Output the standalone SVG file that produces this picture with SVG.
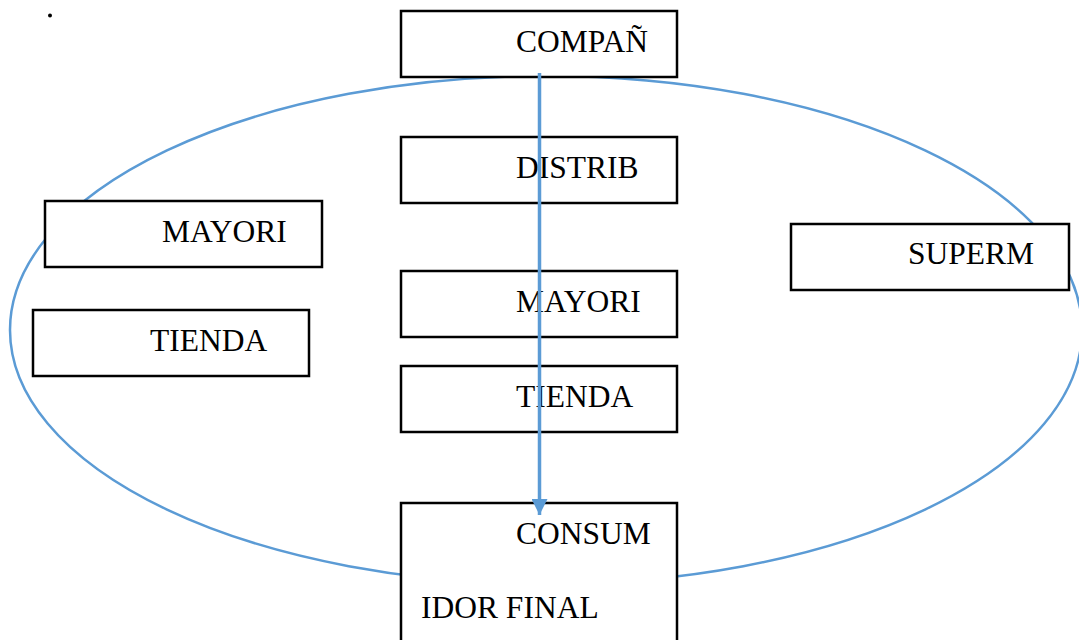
<svg xmlns="http://www.w3.org/2000/svg" width="1079" height="640" viewBox="0 0 1079 640">
<style>
.box{fill:#fff;stroke:#000;stroke-width:2.5}
.t{font-family:"Liberation Serif","Times New Roman",serif;font-size:31.5px;fill:#000}
.conn{stroke:#5B9BD5;stroke-width:3.5;fill:none}
</style>
<defs>
<marker id="ah" viewBox="0 0 10 10" refX="10" refY="5" markerWidth="16" markerHeight="16" markerUnits="userSpaceOnUse" orient="auto">
<path d="M0,0 L10,5 L0,10 z" fill="#5B9BD5"/>
</marker>
</defs>
<rect width="1079" height="640" fill="#fff"/>
<circle cx="50" cy="15.5" r="2" fill="#000"/>
<g id="ellipse">
<ellipse cx="546" cy="330" rx="536" ry="254" fill="none" stroke="#5B9BD5" stroke-width="2.5"/>
</g>
<g id="compan"><rect class="box" x="401" y="11" width="276" height="66"/><text class="t" x="516" y="52">COMPAÑ</text></g>
<g id="distrib"><rect class="box" x="401" y="137" width="276" height="66"/><text class="t" x="516" y="178">DISTRIB</text></g>
<g id="mayori-left"><rect class="box" x="45" y="201" width="277" height="66"/><text class="t" x="162" y="242">MAYORI</text></g>
<g id="tienda-left"><rect class="box" x="33" y="310" width="276" height="66"/><text class="t" x="150" y="351">TIENDA</text></g>
<g id="mayori-center"><rect class="box" x="401" y="271" width="276" height="66"/><text class="t" x="516" y="312">MAYORI</text></g>
<g id="tienda-center"><rect class="box" x="401" y="366" width="276" height="66"/><text class="t" x="516" y="407">TIENDA</text></g>
<g id="superm"><rect class="box" x="791" y="224" width="278" height="66"/><text class="t" x="908" y="264">SUPERM</text></g>
<g id="consum"><rect class="box" x="401" y="503" width="276" height="150"/><text class="t" x="516" y="544">CONSUM</text><text class="t" x="421" y="618">IDOR FINAL</text></g>
<g id="connectors">
<line class="conn" x1="539.5" y1="73" x2="539.5" y2="515" marker-end="url(#ah)"/>
</g>
</svg>
